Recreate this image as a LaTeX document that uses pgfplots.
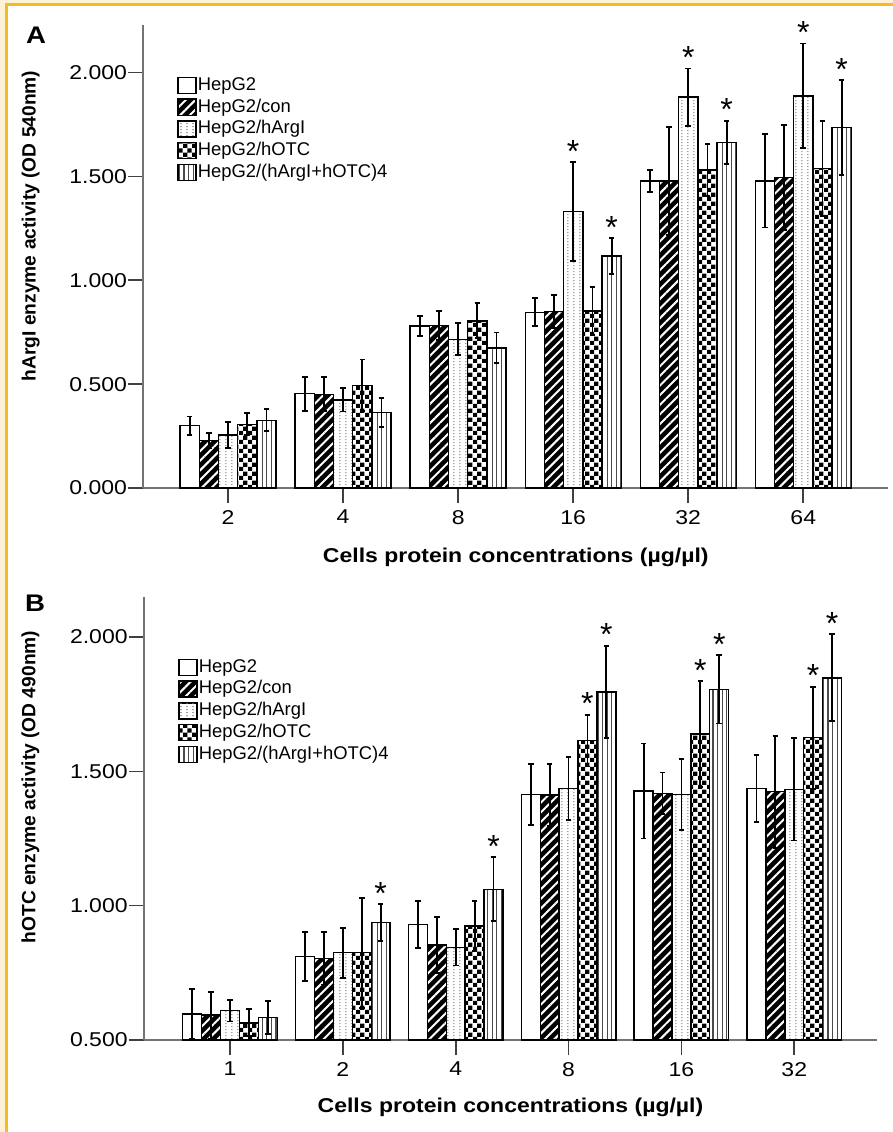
\documentclass[border=0pt]{standalone}
\usepackage{pgfplots}
\pgfplotsset{compat=1.18}
\usepackage{pgfplotstable}
\usepackage{fontspec}
\setmainfont{Liberation Sans}
\newfontfamily\widefont{Liberation Sans}[FakeStretch=1.15]
\usetikzlibrary{patterns,patterns.meta}

\definecolor{cream}{RGB}{253,242,216}
\definecolor{frame}{RGB}{243,188,34}

% fills of the SPSS bars
\pgfdeclarepatternformonly{vdots}{\pgfpointorigin}{\pgfqpoint{3.2pt}{1.6pt}}{\pgfqpoint{3.2pt}{1.6pt}}{%
  \pgfpathrectangle{\pgfqpoint{1.3pt}{0.5pt}}{\pgfqpoint{0.6pt}{0.6pt}}\pgfusepath{fill}}
\pgfdeclarepatternformonly{checker}{\pgfpointorigin}{\pgfqpoint{4.6pt}{4.6pt}}{\pgfqpoint{4.6pt}{4.6pt}}{%
  \pgfpathrectangle{\pgfpointorigin}{\pgfqpoint{2.3pt}{2.3pt}}%
  \pgfpathrectangle{\pgfqpoint{2.3pt}{2.3pt}}{\pgfqpoint{2.3pt}{2.3pt}}\pgfusepath{fill}}

% x = group, then mean / error / star for each cell line
\pgfplotstableread{
x a     ae    as b     be    bs c     ce    cs d     de    ds f     fe    fs
0 0.300 0.044 {} 0.228 0.038 {} 0.255 0.064 {} 0.307 0.053 {} 0.326 0.053 {}
1 0.454 0.082 {} 0.451 0.082 {} 0.424 0.056 {} 0.494 0.125 {} 0.363 0.069 {}
2 0.780 0.048 {} 0.783 0.070 {} 0.716 0.077 {} 0.805 0.084 {} 0.675 0.074 {}
3 0.846 0.067 {} 0.849 0.080 {} 1.330 0.238 *  0.853 0.116 {} 1.117 0.085 *
4 1.479 0.052 {} 1.479 0.260 {} 1.882 0.138 *  1.531 0.125 {} 1.664 0.104 *
5 1.479 0.225 {} 1.494 0.253 {} 1.888 0.252 *  1.539 0.229 {} 1.736 0.228 *
}\dataA

\pgfplotstableread{
x a     ae    as b     be    bs c     ce    cs d     de    ds f     fe    fs
0 0.597 0.092 {} 0.593 0.087 {} 0.609 0.040 {} 0.564 0.050 {} 0.584 0.061 {}
1 0.810 0.091 {} 0.804 0.097 {} 0.825 0.093 {} 0.825 0.205 {} 0.938 0.068 *
2 0.931 0.087 {} 0.854 0.105 {} 0.845 0.068 {} 0.925 0.093 {} 1.061 0.119 *
3 1.414 0.113 {} 1.412 0.115 {} 1.437 0.117 {} 1.614 0.096 *  1.796 0.171 *
4 1.427 0.177 {} 1.418 0.078 {} 1.414 0.131 {} 1.639 0.197 *  1.805 0.127 *
5 1.437 0.124 {} 1.424 0.208 {} 1.433 0.190 {} 1.625 0.190 *  1.848 0.162 *
}\dataB

\pgfplotsset{
  spss/.style={
    scale only axis, ybar=0pt, anchor=south west,
    axis x line*=bottom, axis y line*=left,
    axis line style={black!55, line width=0.8pt, -},
    tick align=outside, major tick length=7.5pt,
    tick style={black!75, line width=0.8pt},
    xtick={0,...,5}, ytick={0,0.5,...,2},
    tick label style={font=\widefont\fontsize{10}{12}\selectfont},
    yticklabel style={inner sep=0.5pt},
    /pgf/number format/fixed, /pgf/number format/fixed zerofill,
    /pgf/number format/precision=3, /pgf/number format/assume math mode=true,
    clip mode=individual,
    error bars/error bar style={black, line width=0.9pt},
    error bars/error mark options={rotate=90, black, line width=0.9pt, mark size=1.4pt},
    legend image code/.code={\draw[#1, line width=0.6pt] (0pt,-4pt) rectangle (9pt,4pt);},
    legend cell align=left,
    legend style={anchor=north west, draw=none, fill=none, inner sep=0pt, row sep=0pt,
      font=\fontsize{9.2}{10}\selectfont,
      nodes={inner sep=0.6pt, text height=7.3pt, text depth=2.4pt},
      /tikz/every even column/.append style={column sep=1pt}},
    xlabel={Cells protein concentrations (µg/µl)},
    xlabel style={at={(axis description cs:0.5,0)}, anchor=base,
      font=\widefont\bfseries\fontsize{10}{12}\selectfont},
    ylabel style={anchor=center, font=\bfseries\fontsize{9.6}{11}\selectfont},
  },
  % error bar plus the star above it
  starerr/.style={
    visualization depends on={\thisrow{#1} \as \myerr},
    point meta=explicit symbolic,
    nodes near coords={\pgfplotspointmeta},
    every node near coord/.append style={anchor=base, inner sep=0pt, black,
      font=\fontsize{16}{16}\selectfont,
      shift={(axis direction cs:0,\myerr)}},
    error bars/y dir=both, error bars/y explicit,
  },
  bar0/.style={draw=black, line width=0.7pt, fill=white},
  bar1/.style={draw=black, line width=0.7pt, preaction={fill=black},
    pattern={Lines[angle=45, distance=3.4pt, line width=1pt]}, pattern color=white},
  bar2/.style={draw=black, line width=0.7pt, preaction={fill=white},
    pattern=vdots, pattern color=black!55},
  bar3/.style={draw=black, line width=0.7pt, preaction={fill=white},
    pattern=checker, pattern color=black},
  bar4/.style={draw=black, line width=0.7pt, preaction={fill=white},
    pattern={Lines[angle=90, distance=2.3pt, line width=0.55pt]}, pattern color=black!70},
}

\begin{document}
\begin{tikzpicture}
\path[use as bounding box] (0,0) rectangle (446.5pt,-566pt);
\fill[cream] (0,0) rectangle (2.7pt,-566pt);
\fill[cream] (0,0) rectangle (446.5pt,-1.7pt);
\draw[frame, line width=1.4pt] (3.4pt,-566pt) -- (3.4pt,-2.4pt) -- (446.5pt,-2.4pt);

\node[font=\widefont\bfseries\fontsize{12}{12}\selectfont] at (18pt,-17.5pt) {A};
\node[font=\widefont\bfseries\fontsize{12}{12}\selectfont] at (17.5pt,-301.5pt) {B};

% panel A
\begin{axis}[spss,
  at={(71.65pt,-244pt)}, width=372.5pt, height=231.5pt,
  xmin=-0.737, xmax=5.739, ymin=0, ymax=2.229,
  bar width=9.6pt,
  xticklabels={2,4,8,16,32,64},
  ylabel={hArgI enzyme activity (OD 540nm)},
  ylabel style={at={(axis description cs:-0.151,0.566)}},
  xlabel style={yshift=-37.25pt},
  legend style={at={(0.0452,0.894)}},
  ]
\addplot[bar0, starerr=ae] table[x=x, y=a, y error=ae, meta=as] {\dataA};
\addplot[bar1, starerr=be] table[x=x, y=b, y error=be, meta=bs] {\dataA};
\addplot[bar2, starerr=ce] table[x=x, y=c, y error=ce, meta=cs] {\dataA};
\addplot[bar3, starerr=de] table[x=x, y=d, y error=de, meta=ds] {\dataA};
\addplot[bar4, starerr=fe] table[x=x, y=f, y error=fe, meta=fs] {\dataA};
\legend{HepG2, HepG2/con, HepG2/hArgI, HepG2/hOTC, HepG2/(hArgI+hOTC)4}
\end{axis}

% panel B
\begin{axis}[spss,
  at={(72pt,-520pt)}, width=366.5pt, height=221.5pt,
  xmin=-0.762, xmax=5.733, ymin=0.5, ymax=2.149,
  bar width=9.45pt,
  xticklabels={1,2,4,8,16,32},
  ytick={0.5,1,1.5,2},
  ylabel={hOTC enzyme activity (OD 490nm)},
  ylabel style={at={(axis description cs:-0.155,0.571)}},
  xlabel style={yshift=-36.25pt},
  legend style={at={(0.0464,0.867)}},
  ]
\addplot[bar0, starerr=ae] table[x=x, y=a, y error=ae, meta=as] {\dataB};
\addplot[bar1, starerr=be] table[x=x, y=b, y error=be, meta=bs] {\dataB};
\addplot[bar2, starerr=ce] table[x=x, y=c, y error=ce, meta=cs] {\dataB};
\addplot[bar3, starerr=de] table[x=x, y=d, y error=de, meta=ds] {\dataB};
\addplot[bar4, starerr=fe] table[x=x, y=f, y error=fe, meta=fs] {\dataB};
\legend{HepG2, HepG2/con, HepG2/hArgI, HepG2/hOTC, HepG2/(hArgI+hOTC)4}
\end{axis}
\end{tikzpicture}
\end{document}
